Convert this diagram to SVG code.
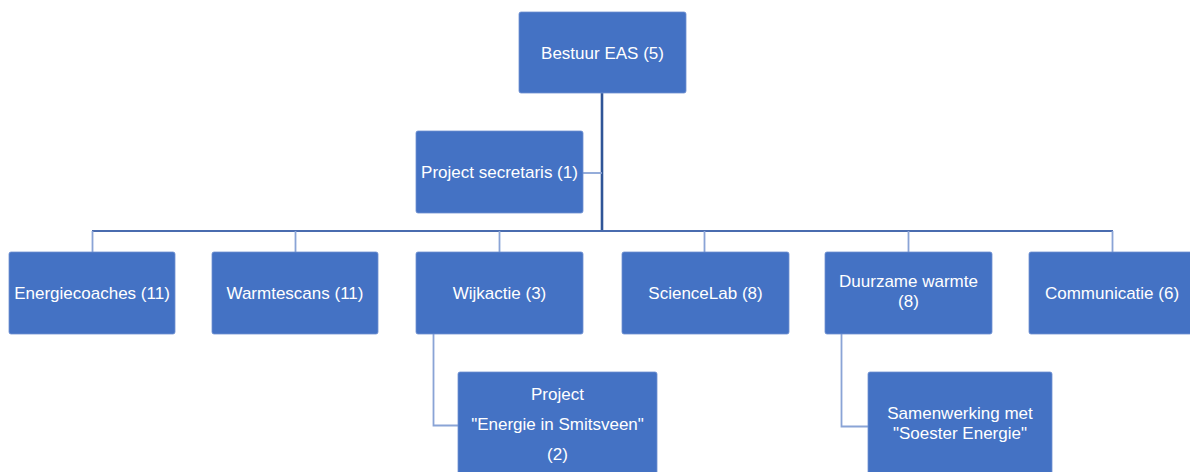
<svg xmlns="http://www.w3.org/2000/svg" width="1190" height="472" viewBox="0 0 1190 472">
<style>
.box{fill:#4472C4;stroke:#6E8FD0;stroke-width:0.8}
.t{fill:#FFFFFF;font-family:"Liberation Sans",Arial,sans-serif;font-size:17px;text-anchor:middle}
.trunk{stroke:#2F5597;stroke-width:2.6;fill:none}
.bar{stroke:#4A6CAF;stroke-width:1.8;fill:none}
.thin{stroke:#8AA4D6;stroke-width:1.8;fill:none}
</style>
<rect width="1190" height="472" fill="#FFFFFF"/>
<g id="connectors">
<line class="trunk" x1="602" y1="93" x2="602" y2="232"/>
<line class="thin" x1="583" y1="173" x2="602" y2="173"/>
<line class="bar" x1="92" y1="231" x2="1113" y2="231"/>
<line class="thin" x1="92.5" y1="231" x2="92.5" y2="252"/>
<line class="thin" x1="295.5" y1="231" x2="295.5" y2="252"/>
<line class="thin" x1="499.5" y1="231" x2="499.5" y2="252"/>
<line class="thin" x1="704.5" y1="231" x2="704.5" y2="252"/>
<line class="thin" x1="908.5" y1="231" x2="908.5" y2="252"/>
<line class="thin" x1="1112.5" y1="231" x2="1112.5" y2="252"/>
<polyline class="thin" points="433.5,334 433.5,425.5 458,425.5"/>
<polyline class="thin" points="841.5,334 841.5,426.5 868,426.5"/>
</g>
<g id="bestuur">
<rect class="box" x="519" y="12" width="167" height="81" rx="2"/>
<text class="t" x="602.5" y="59">Bestuur EAS (5)</text>
</g>
<g id="secretaris">
<rect class="box" x="416" y="131" width="167" height="82" rx="2"/>
<text class="t" x="499.5" y="178">Project secretaris (1)</text>
</g>
<g id="energiecoaches">
<rect class="box" x="9" y="252" width="166" height="82" rx="2"/>
<text class="t" x="92" y="299">Energiecoaches (11)</text>
</g>
<g id="warmtescans">
<rect class="box" x="212" y="252" width="166" height="82" rx="2"/>
<text class="t" x="295" y="299">Warmtescans (11)</text>
</g>
<g id="wijkactie">
<rect class="box" x="416" y="252" width="167" height="82" rx="2"/>
<text class="t" x="499.5" y="299">Wijkactie (3)</text>
</g>
<g id="sciencelab">
<rect class="box" x="622" y="252" width="167" height="82" rx="2"/>
<text class="t" x="705.5" y="299">ScienceLab (8)</text>
</g>
<g id="duurzame">
<rect class="box" x="825" y="252" width="167" height="82" rx="2"/>
<text class="t" x="908.5" y="287">Duurzame warmte</text>
<text class="t" x="908.5" y="307">(8)</text>
</g>
<g id="communicatie">
<rect class="box" x="1029" y="252" width="166" height="82" rx="2"/>
<text class="t" x="1112" y="299">Communicatie (6)</text>
</g>
<g id="smitsveen">
<rect class="box" x="458" y="372" width="199" height="110" rx="2"/>
<text class="t" x="557.5" y="400">Project</text>
<text class="t" x="557.5" y="430">"Energie in Smitsveen"</text>
<text class="t" x="557.5" y="460">(2)</text>
</g>
<g id="samenwerking">
<rect class="box" x="868" y="372" width="184" height="110" rx="2"/>
<text class="t" x="960" y="419">Samenwerking met</text>
<text class="t" x="960" y="439">"Soester Energie"</text>
</g>
</svg>
